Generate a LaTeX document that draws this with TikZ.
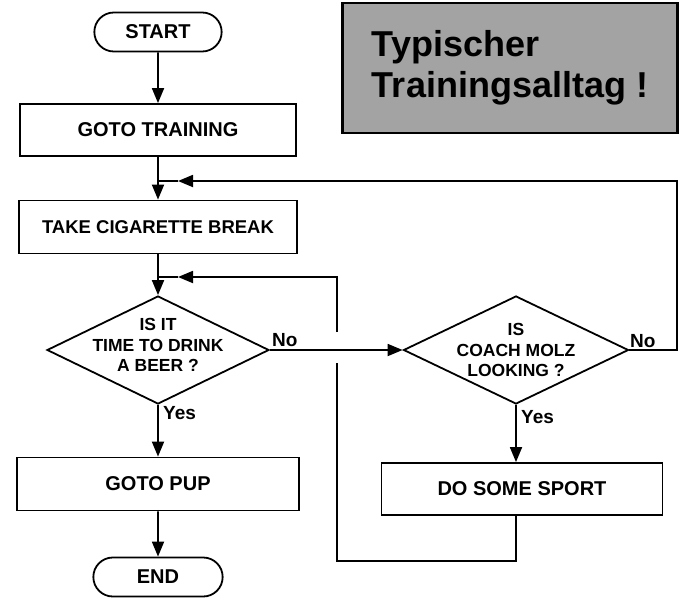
\documentclass[tikz,border=0pt]{standalone}
\usepackage{fontspec}
\setmainfont{Liberation Sans}
\usepackage{tikz}
\usetikzlibrary{arrows.meta, positioning, calc, shapes.geometric, shapes.misc}

\begin{document}
\begin{tikzpicture}[x=1pt, y=-1pt,
  box/.style={rectangle, draw, line width=1.8pt, minimum height=52pt, font=\fontsize{20}{24}\selectfont\bfseries},
  term/.style={rounded rectangle, draw, line width=1.8pt, minimum width=134pt, minimum height=39pt, font=\fontsize{20}{24}\selectfont\bfseries},
  decision/.style={diamond, draw, line width=1.8pt, minimum width=222pt, minimum height=108pt, inner sep=0pt},
  dtext/.style={align=center, font=\fontsize{17.5}{20.5}\selectfont\bfseries},
  answer/.style={inner sep=0pt, font=\fontsize{19}{22}\selectfont\bfseries},
  line/.style={line width=1.8pt},
  flow/.style={line, -{Triangle[length=15pt, width=12pt]}}]

 \useasboundingbox (0,0) rectangle (683,598);

 % Title
 \node[draw, line width=2.6pt, fill=black!36, minimum width=335pt, minimum height=130pt, align=left, font=\fontsize{36}{41}\selectfont\bfseries] (title) at (510,68) {Typischer\\Trainingsalltag !};

 % Nodes
 \node[term] (start) at (158,32) {START};
 \node[box, minimum width=276pt] (train) at (158,130) {GOTO TRAINING};
 \node[box, minimum width=278pt, minimum height=53pt, font=\fontsize{18.5}{22}\selectfont\bfseries] (cig) at (158,227) {TAKE CIGARETTE BREAK};
 \node[decision] (beer) at (158,350) {};
 \node[dtext] (beertxt) at ([yshift=5pt]beer.center) {IS IT\\TIME TO DRINK\\A BEER ?};
 \node[box, minimum width=282pt, minimum height=53pt] (pup) at (158,484) {GOTO PUP};
 \node[term, minimum width=136pt] (end) at (158,577) {END};
 \node[decision, minimum width=225pt] (coach) at (516,350) {};
 \node[dtext] (coachtxt) at (coach) {IS\\COACH MOLZ\\LOOKING ?};
 \node[box, minimum width=281pt] (sport) at (522,489) {DO SOME SPORT};

 % Answers
 \node[answer, anchor=south west] (no1) at (272,347) {No};
 \node[answer, anchor=north west] (yes1) at (163,406) {Yes};
 \node[answer, anchor=south west] (no2) at (630,348) {No};
 \node[answer, anchor=north west] (yes2) at (521,410) {Yes};

 % Joins of the loops
 \coordinate (j1) at (158,181);
 \coordinate (j2) at (158,277);
 \coordinate (r1) at (677,181);
 \coordinate (r2) at (337,277);

 % Solid arrows
 \draw[flow] (start) -- (train);
 \draw[flow] (train) -- (cig);
 \draw[flow] (cig) -- (beer);
 \draw[flow] (beer) -- (pup);
 \draw[flow] (pup) -- (end);
 \draw[flow] (beer) -- (coach);
 \draw[flow] (coach) -- (coach.south |- sport.north);

 % Loop back when Molz is not looking
 \draw[flow] (coach.east) -| (r1) -- ([xshift=20pt]j1);
 \draw[line] ([xshift=20pt]j1) -- (j1);

 % Loop back after the sport, with a gap where it crosses the No line
 \draw[flow] (coach.south |- sport.south) -- ++(0,45) -| (337,363) (337,332) -- (r2) -- ([xshift=20pt]j2);
 \draw[line] ([xshift=20pt]j2) -- (j2);

\end{tikzpicture}
\end{document}
